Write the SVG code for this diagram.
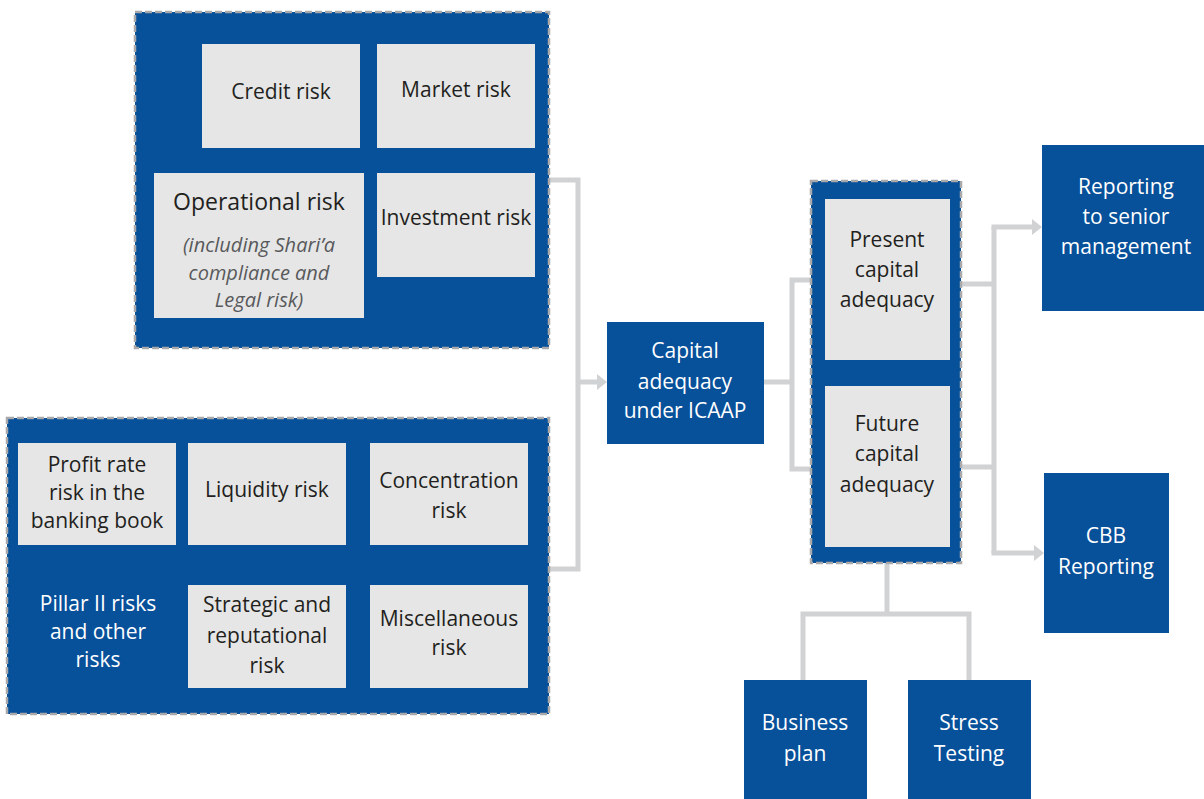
<svg xmlns="http://www.w3.org/2000/svg" width="1204" height="799" viewBox="0 0 1204 799">
<style>
.grp{fill:#07509a;stroke:#a9a9ab;stroke-width:2.5;stroke-dasharray:7 3}
.blue{fill:#07509a}
.gray{fill:#e6e6e6}
.t{font-family:"Open Sans","Noto Sans",sans-serif;font-size:21px;fill:#231f20;text-anchor:middle}
.w{fill:#ffffff}
.big{font-size:23px}
.it{font-style:italic;fill:#58595b;font-size:20px}
.c{fill:none;stroke:#d1d2d4;stroke-width:5}
</style>
<defs>
<marker id="ah" markerWidth="10" markerHeight="16" refX="0" refY="8" orient="auto" markerUnits="userSpaceOnUse">
<path d="M0,0 L10,8 L0,16 Z" fill="#d1d2d4"/>
</marker>
</defs>
<g id="connectors">
<polyline class="c" points="549,180 578,180 578,569 549,569"/>
<line class="c" x1="578" y1="382" x2="597" y2="382" marker-end="url(#ah)"/>
<polyline class="c" points="764,382 792,382"/>
<polyline class="c" points="812,280 792,280 792,469 812,469"/>
<polyline class="c" points="961,284 994,284"/>
<polyline class="c" points="961,467 994,467"/>
<polyline class="c" points="994,227 994,553"/>
<line class="c" x1="991.5" y1="227" x2="1032" y2="227" marker-end="url(#ah)"/>
<line class="c" x1="991.5" y1="553" x2="1034" y2="553" marker-end="url(#ah)"/>
<polyline class="c" points="887,563 887,614"/>
<polyline class="c" points="803,680 803,614 969,614 969,680"/>
</g>
<g id="group-pillar1">
<rect class="grp" x="135" y="12" width="414" height="336"/>
</g>
<g id="credit-risk">
<rect class="gray" x="202" y="44" width="158" height="104"/>
<text class="t" x="281" y="99">Credit risk</text>
</g>
<g id="market-risk">
<rect class="gray" x="377" y="44" width="158" height="104"/>
<text class="t" x="456" y="97">Market risk</text>
</g>
<g id="operational-risk">
<rect class="gray" x="154" y="173" width="210" height="145"/>
<text class="t big" x="259" y="210">Operational risk</text>
<text class="t it" x="259" y="252">(including Shari’a</text>
<text class="t it" x="259" y="280">compliance and</text>
<text class="t it" x="259" y="307">Legal risk)</text>
</g>
<g id="investment-risk">
<rect class="gray" x="377" y="173" width="158" height="104"/>
<text class="t" x="456" y="225">Investment risk</text>
</g>
<g id="group-pillar2">
<rect class="grp" x="7" y="418" width="542" height="296"/>
<text class="t w" x="98" y="611">Pillar II risks</text>
<text class="t w" x="98" y="639">and other</text>
<text class="t w" x="98" y="667">risks</text>
</g>
<g id="profit-rate-risk">
<rect class="gray" x="18" y="443" width="158" height="102"/>
<text class="t" x="97" y="472">Profit rate</text>
<text class="t" x="97" y="500">risk in the</text>
<text class="t" x="97" y="528">banking book</text>
</g>
<g id="liquidity-risk">
<rect class="gray" x="188" y="443" width="158" height="102"/>
<text class="t" x="267" y="497">Liquidity risk</text>
</g>
<g id="concentration-risk">
<rect class="gray" x="370" y="443" width="158" height="102"/>
<text class="t" x="449" y="488">Concentration</text>
<text class="t" x="449" y="518">risk</text>
</g>
<g id="strategic-risk">
<rect class="gray" x="188" y="585" width="158" height="103"/>
<text class="t" x="267" y="612">Strategic and</text>
<text class="t" x="267" y="643">reputational</text>
<text class="t" x="267" y="673">risk</text>
</g>
<g id="misc-risk">
<rect class="gray" x="370" y="585" width="158" height="103"/>
<text class="t" x="449" y="626">Miscellaneous</text>
<text class="t" x="449" y="655">risk</text>
</g>
<g id="capital-adequacy">
<rect class="blue" x="607" y="322" width="157" height="122"/>
<text class="t w" x="685" y="358">Capital</text>
<text class="t w" x="685" y="389">adequacy</text>
<text class="t w" x="685" y="418">under ICAAP</text>
</g>
<g id="group-adequacy">
<rect class="grp" x="811" y="181" width="150" height="382"/>
</g>
<g id="present-capital">
<rect class="gray" x="825" y="199" width="125" height="161"/>
<text class="t" x="887" y="247">Present</text>
<text class="t" x="887" y="277">capital</text>
<text class="t" x="887" y="307">adequacy</text>
</g>
<g id="future-capital">
<rect class="gray" x="825" y="386" width="125" height="161"/>
<text class="t" x="887" y="431">Future</text>
<text class="t" x="887" y="461">capital</text>
<text class="t" x="887" y="492">adequacy</text>
</g>
<g id="reporting-senior">
<rect class="blue" x="1042" y="145" width="162" height="166"/>
<text class="t w" x="1126" y="194">Reporting</text>
<text class="t w" x="1126" y="224">to senior</text>
<text class="t w" x="1126" y="254">management</text>
</g>
<g id="cbb-reporting">
<rect class="blue" x="1044" y="473" width="125" height="160"/>
<text class="t w" x="1106" y="543">CBB</text>
<text class="t w" x="1106" y="574">Reporting</text>
</g>
<g id="business-plan">
<rect class="blue" x="744" y="680" width="123" height="119"/>
<text class="t w" x="805" y="730">Business</text>
<text class="t w" x="805" y="761">plan</text>
</g>
<g id="stress-testing">
<rect class="blue" x="908" y="680" width="123" height="119"/>
<text class="t w" x="969" y="730">Stress</text>
<text class="t w" x="969" y="761">Testing</text>
</g>
</svg>
